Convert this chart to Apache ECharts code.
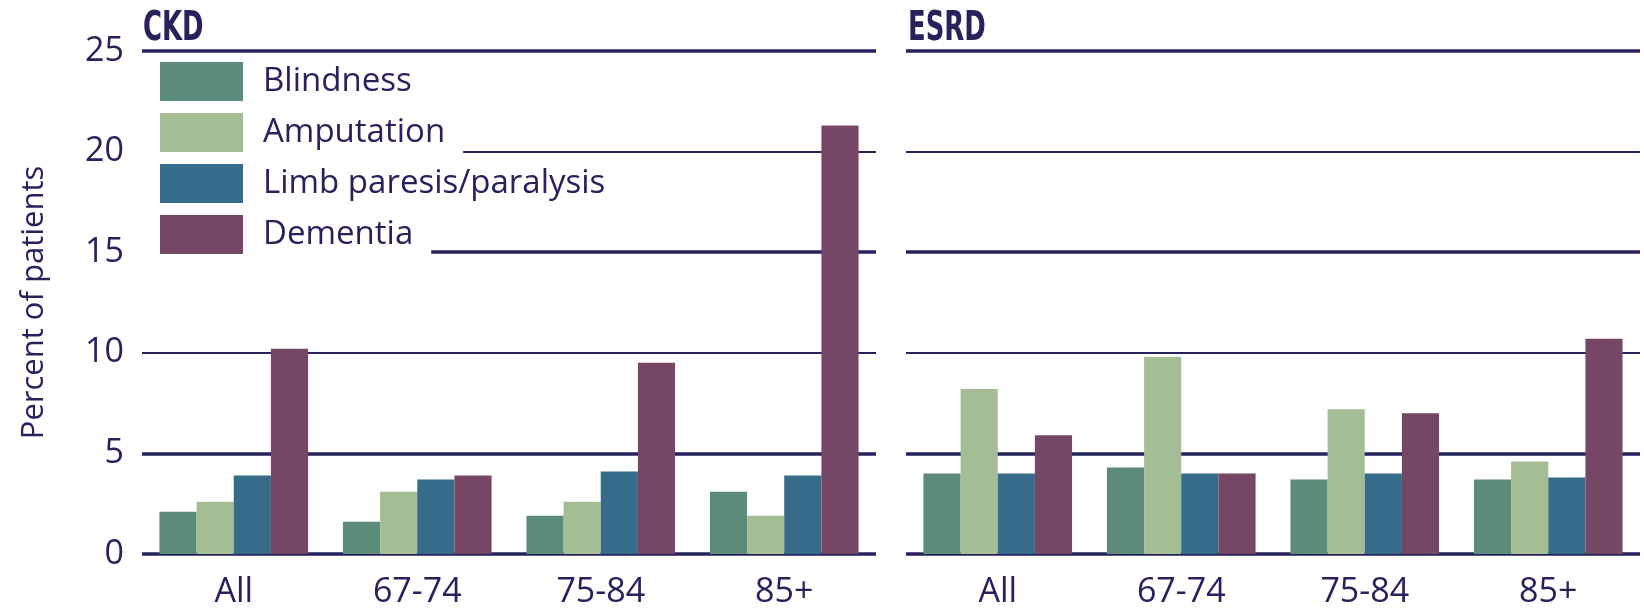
<!DOCTYPE html>
<html>
<head>
<meta charset="utf-8">
<script src="https://cdn.jsdelivr.net/npm/echarts@6/dist/echarts.min.js"></script>
<style>
html,body{margin:0;padding:0;background:#fff;}
#chart{width:1644px;height:609px;}
</style>
</head>
<body>
<div id="chart"></div>
<script>
// ---- data ----
const categories = ['All', '67-74', '75-84', '85+'];
const seriesNames = ['Blindness', 'Amputation', 'Limb paresis/paralysis', 'Dementia'];
const panelTitles = ['CKD', 'ESRD'];

const ckdBlindness  = [2.1, 1.6, 1.9, 3.1];
const ckdAmputation = [2.6, 3.1, 2.6, 1.9];
const ckdLimb       = [3.9, 3.7, 4.1, 3.9];
const ckdDementia   = [10.2, 3.9, 9.5, 21.3];

const esrdBlindness  = [4.0, 4.3, 3.7, 3.7];
const esrdAmputation = [8.2, 9.8, 7.2, 4.6];
const esrdLimb       = [4.0, 4.0, 4.0, 3.8];
const esrdDementia   = [5.9, 4.0, 7.0, 10.7];

const yTicks = [0, 5, 10, 15, 20, 25];
const thickLevels = [0, 5, 15, 25];

// ---- style ----
const colors = ['#5d8b7a', '#a4bd95', '#376b8a', '#754764'];
const navy = '#25225c';
const font = "'Open Sans', 'Noto Sans', sans-serif";
const titleFont = "'DejaVu Sans Condensed', 'DejaVu Sans', sans-serif";

const panels = [
  [ckdBlindness, ckdAmputation, ckdLimb, ckdDementia],
  [esrdBlindness, esrdAmputation, esrdLimb, esrdDementia]
];

const gridLefts = [142, 906];
const grids = gridLefts.map(l => ({ left: l, width: 734, top: 51, height: 504, containLabel: false }));

const xAxes = grids.map((g, i) => ({
  type: 'category', gridIndex: i, data: categories,
  axisLine: { show: false }, axisTick: { show: false },
  axisLabel: { fontFamily: font, fontSize: 34, color: navy, margin: 21 }
}));

const yAxes = grids.map((g, i) => ({
  type: 'value', gridIndex: i, min: yTicks[0], max: yTicks[yTicks.length - 1], interval: 5,
  axisLine: { show: false }, axisTick: { show: false },
  axisLabel: { show: i === 0, fontFamily: font, fontSize: 34, color: navy, margin: 18 },
  splitLine: { show: true, lineStyle: { color: navy, width: 2 } },
  name: i === 0 ? 'Percent of patients' : '',
  nameLocation: 'middle', nameGap: 92,
  nameTextStyle: { fontFamily: font, fontSize: 31, color: navy }
}));

const series = [];
panels.forEach((vals, p) => {
  vals.forEach((arr, s) => {
    const ser = {
      type: 'bar', name: seriesNames[s], xAxisIndex: p, yAxisIndex: p, data: arr,
      barGap: '0%', barCategoryGap: '19%',
      itemStyle: { color: colors[s] },
      animation: false
    };
    if (s === 0) {
      ser.markLine = {
        silent: true, symbol: 'none', z: 1, animation: false,
        label: { show: false },
        lineStyle: { type: 'solid', color: navy, width: 3.5 },
        data: thickLevels.map(v => ({ yAxis: v }))
      };
    }
    series.push(ser);
  });
});

const legendTops = [60, 111, 162, 213];
const legends = seriesNames.map((n, i) => ({
  data: [n], left: 142, top: legendTops[i], orient: 'horizontal',
  padding: [2, 18, 2, 18], backgroundColor: '#fff',
  itemWidth: 83, itemHeight: 39, icon: 'rect', z: 4,
  textStyle: { fontFamily: font, fontSize: 33, color: navy, lineHeight: 36, padding: [0, 0, 0, 15] }
}));

const titleX = [143, 908];
const titleGraphics = panelTitles.map((t, i) => ({
  type: 'text', x: titleX[i], y: 10, scaleX: 0.72, silent: true,
  style: { text: t, font: "bold 40px " + titleFont, fill: navy, verticalAlign: 'top', align: 'left' }
}));

const chart = echarts.init(document.getElementById('chart'), null, { renderer: 'canvas' });
chart.setOption({
  animation: false,
  legend: legends,
  grid: grids,
  xAxis: xAxes,
  yAxis: yAxes,
  series: series,
  graphic: titleGraphics
});
</script>
</body>
</html>
